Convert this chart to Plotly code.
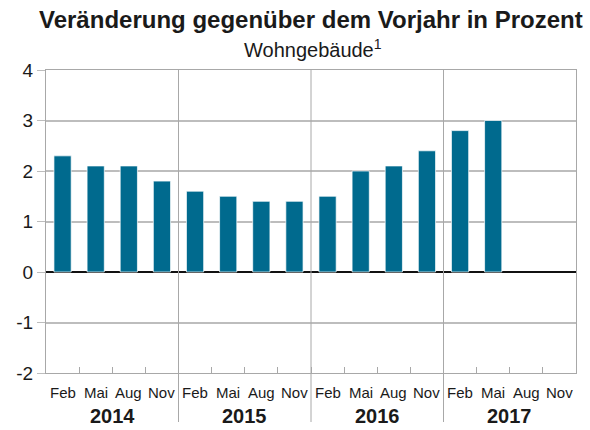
import plotly.graph_objects as go

years = ["2014", "2015", "2016", "2017"]
months = ["Feb", "Mai", "Aug", "Nov"]
values = [2.3, 2.1, 2.1, 1.8,
          1.6, 1.5, 1.4, 1.4,
          1.5, 2.0, 2.1, 2.4,
          2.8, 3.0, None, None]
y_ticks = [-2, -1, 0, 1, 2, 3, 4]
title = "<b>Veränderung gegenüber dem Vorjahr in Prozent</b>"
subtitle = "Wohngebäude<sup>1</sup>"

FONT = "Liberation Sans, Arial, Helvetica, sans-serif"
BAR = "#006a8e"
GRID = "#bdbdbd"
FRAME = "#a8a8a8"
TXT = "#1a1a1a"

n_m = len(months)
n = len(years) * n_m
xs = list(range(n))

W, H = 590, 430
ml, mr, mt, mb = 46, 14, 70, 57
ph = H - mt - mb

def py(px_from_top):
    return 1 + (mt - px_from_top) / ph

fig = go.Figure()
fig.add_trace(go.Bar(
    x=xs, y=values,
    marker=dict(color=BAR, line=dict(color="rgba(255,255,255,0.7)", width=1)),
    hoverinfo="skip",
))

annotations = []
for i in xs:
    annotations.append(dict(x=i, y=py(392.5), xref="x", yref="paper",
                            text=months[i % n_m], showarrow=False,
                            font=dict(family=FONT, size=15, color=TXT),
                            xanchor="center", yanchor="middle"))
for k, yr in enumerate(years):
    annotations.append(dict(x=k * n_m + (n_m - 1) / 2, y=py(415.5),
                            xref="x", yref="paper", text="<b>" + yr + "</b>",
                            showarrow=False,
                            font=dict(family=FONT, size=20, color=TXT),
                            xanchor="center", yanchor="middle"))
annotations.append(dict(x=0.5, y=py(19), xref="paper", yref="paper", text=title,
                        showarrow=False, font=dict(family=FONT, size=24, color=TXT),
                        xanchor="center", yanchor="middle", xshift=0))
annotations.append(dict(x=0.5, y=py(49), xref="paper", yref="paper", text=subtitle,
                        showarrow=False, font=dict(family=FONT, size=20, color=TXT),
                        xanchor="center", yanchor="middle", xshift=2))

shapes = []
for k in range(1, len(years)):
    xb = k * n_m - 0.5
    shapes.append(dict(type="line", xref="x", yref="paper", x0=xb, x1=xb,
                       y0=py(422), y1=1,
                       line=dict(color=FRAME, width=1), layer="above"))

fig.update_layout(
    width=W, height=H,
    margin=dict(l=ml, r=mr, t=mt, b=mb),
    paper_bgcolor="white", plot_bgcolor="white",
    showlegend=False,
    bargap=0.48,
    annotations=annotations,
    shapes=shapes,
    font=dict(family=FONT, color=TXT),
)
fig.update_xaxes(
    range=[-0.5, n - 0.5],
    showticklabels=False, ticks="", showgrid=False, zeroline=False,
    showline=True, linecolor=FRAME, linewidth=1, mirror=True,
    minor=dict(tickmode="array", tickvals=[i + 0.5 for i in range(n - 1)],
               ticks="inside", ticklen=6, tickcolor=FRAME, showgrid=False),
)
fig.update_yaxes(
    range=[y_ticks[0], y_ticks[-1]],
    tickvals=y_ticks, ticktext=[str(v) for v in y_ticks],
    ticks="outside", ticklen=8, tickcolor=GRID, tickwidth=1,
    tickfont=dict(family=FONT, size=19, color=TXT),
    showgrid=True, gridcolor=GRID, gridwidth=1.5,
    zeroline=True, zerolinecolor="#111111", zerolinewidth=2,
    showline=True, linecolor=FRAME, linewidth=1, mirror=True,
)

fig.write_html("out.html", config={"displayModeBar": False},
               post_script="document.body.style.margin='0';")
